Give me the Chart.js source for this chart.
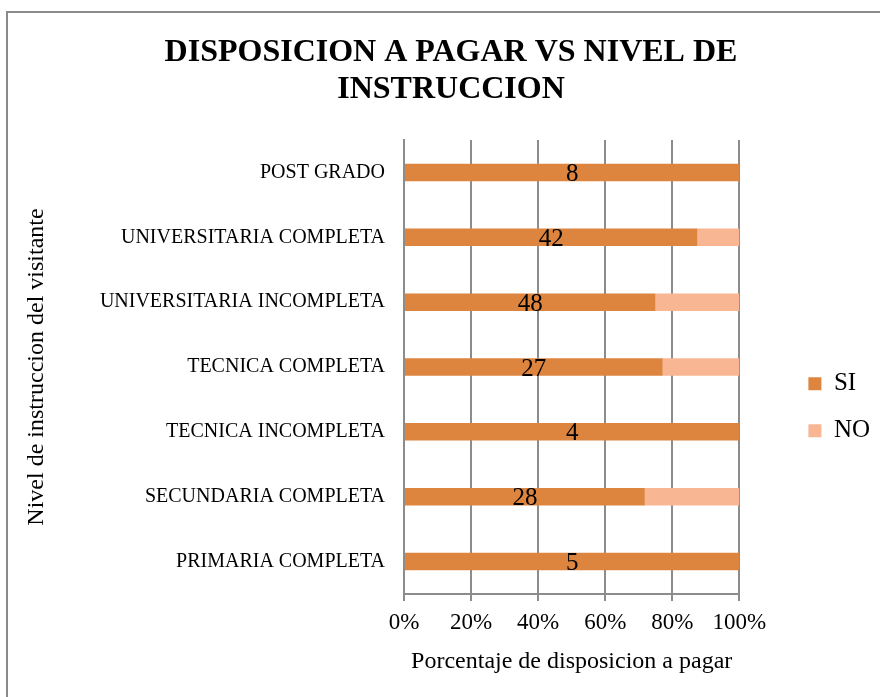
<!DOCTYPE html>
<html>
<head>
<meta charset="utf-8">
<script src="https://cdn.jsdelivr.net/npm/chart.js@4"></script>
<style>
  html, body { margin: 0; padding: 0; background: #fff; overflow: hidden; width: 880px; height: 697px; }
  #frame { position: absolute; left: 6px; top: 11px; width: 1000px; height: 1000px;
           border-left: 2px solid #8a8a8a; border-top: 2px solid #8a8a8a; }
  #wrap { position: absolute; left: 8px; top: 0px; width: 886px; height: 697px; }
</style>
</head>
<body>
<div id="frame"></div>
<div id="wrap"><canvas id="c" width="886" height="697"></canvas></div>
<script>
// ---- data ----
const categories = [
  'POST GRADO',
  'UNIVERSITARIA COMPLETA',
  'UNIVERSITARIA INCOMPLETA',
  'TECNICA COMPLETA',
  'TECNICA INCOMPLETA',
  'SECUNDARIA COMPLETA',
  'PRIMARIA COMPLETA'
];
const siCounts = [8, 42, 48, 27, 4, 28, 5];
const noCounts = [0, 6, 16, 8, 0, 11, 0];
const xTicks = [0, 20, 40, 60, 80, 100];
const titleLines = ['DISPOSICION A PAGAR VS NIVEL DE', 'INSTRUCCION'];
const xTitle = 'Porcentaje de disposicion a pagar';
const yTitle = 'Nivel de instruccion del visitante';

const siPct = siCounts.map((v, i) => v / (v + noCounts[i]) * 100);
const noPct = noCounts.map((v, i) => v / (siCounts[i] + v) * 100);

const SERIF = "'Liberation Serif', 'Times New Roman', serif";
const GRID = '#8c8c8c';

const labelPlugin = {
  id: 'siLabels',
  afterDatasetsDraw(chart) {
    const ctx = chart.ctx;
    const meta = chart.getDatasetMeta(0);
    ctx.save();
    ctx.font = '25px ' + SERIF;
    ctx.fillStyle = '#000';
    ctx.textAlign = 'center';
    ctx.textBaseline = 'middle';
    meta.data.forEach((el, i) => {
      const p = el.getCenterPoint();
      ctx.fillText(String(siCounts[i]), p.x, p.y + 2);
    });
    ctx.restore();
  }
};

new Chart(document.getElementById('c'), {
  type: 'bar',
  data: {
    labels: categories,
    datasets: [
      { label: 'SI', data: siPct, backgroundColor: '#DD843F', borderWidth: 0,
        barPercentage: 0.27, categoryPercentage: 1 },
      { label: 'NO', data: noPct, backgroundColor: '#F8B693', borderWidth: 0,
        barPercentage: 0.27, categoryPercentage: 1 }
    ]
  },
  options: {
    indexAxis: 'y',
    responsive: false,
    animation: false,
    layout: { padding: { left: 14, right: 14, top: 0, bottom: 21 } },
    plugins: {
      tooltip: { enabled: false },
      title: {
        display: true,
        text: titleLines,
        color: '#000',
        font: { family: SERIF, size: 32, weight: 'bold', lineHeight: 1.13 },
        padding: { top: 35, bottom: 32.7 }
      },
      legend: {
        position: 'right',
        title: { display: true, text: '', font: { size: 10, lineHeight: 1 }, padding: { top: 128.6, bottom: 0 } },
        labels: {
          color: '#000',
          font: { family: SERIF, size: 25 },
          boxWidth: 13,
          boxHeight: 13,
          padding: 22
        }
      }
    },
    scales: {
      x: {
        stacked: true,
        min: 0,
        max: 100,
        afterBuildTicks(s) { s.ticks = xTicks.map(v => ({ value: v })); },
        afterFit(s) { s.height = 82; },
        ticks: {
          color: '#000',
          font: { family: SERIF, size: 23 },
          padding: 8,
          callback: v => v + '%'
        },
        grid: { color: GRID, lineWidth: 2, tickLength: 7, drawTicks: true },
        border: { display: true, color: GRID, width: 2 },
        title: {
          display: true,
          text: xTitle,
          color: '#000',
          font: { family: SERIF, size: 24 },
          padding: { top: 0, bottom: 0 }
        }
      },
      y: {
        stacked: true,
        afterFit(s) { s.width = 382; },
        ticks: { color: '#000', font: { family: SERIF, size: 20 }, padding: 19 },
        grid: { display: false, drawTicks: false },
        border: { display: true, color: GRID, width: 2 },
        title: {
          display: true,
          text: yTitle,
          color: '#000',
          font: { family: SERIF, size: 24 },
          padding: { top: 0, bottom: 0 }
        }
      },
      spacer: {
        type: 'linear',
        position: 'right',
        display: true,
        afterFit(s) { s.width = 47; },
        ticks: { display: false },
        grid: { display: false, drawTicks: false },
        border: { display: false }
      }
    }
  },
  plugins: [labelPlugin]
});
</script>
</body>
</html>
